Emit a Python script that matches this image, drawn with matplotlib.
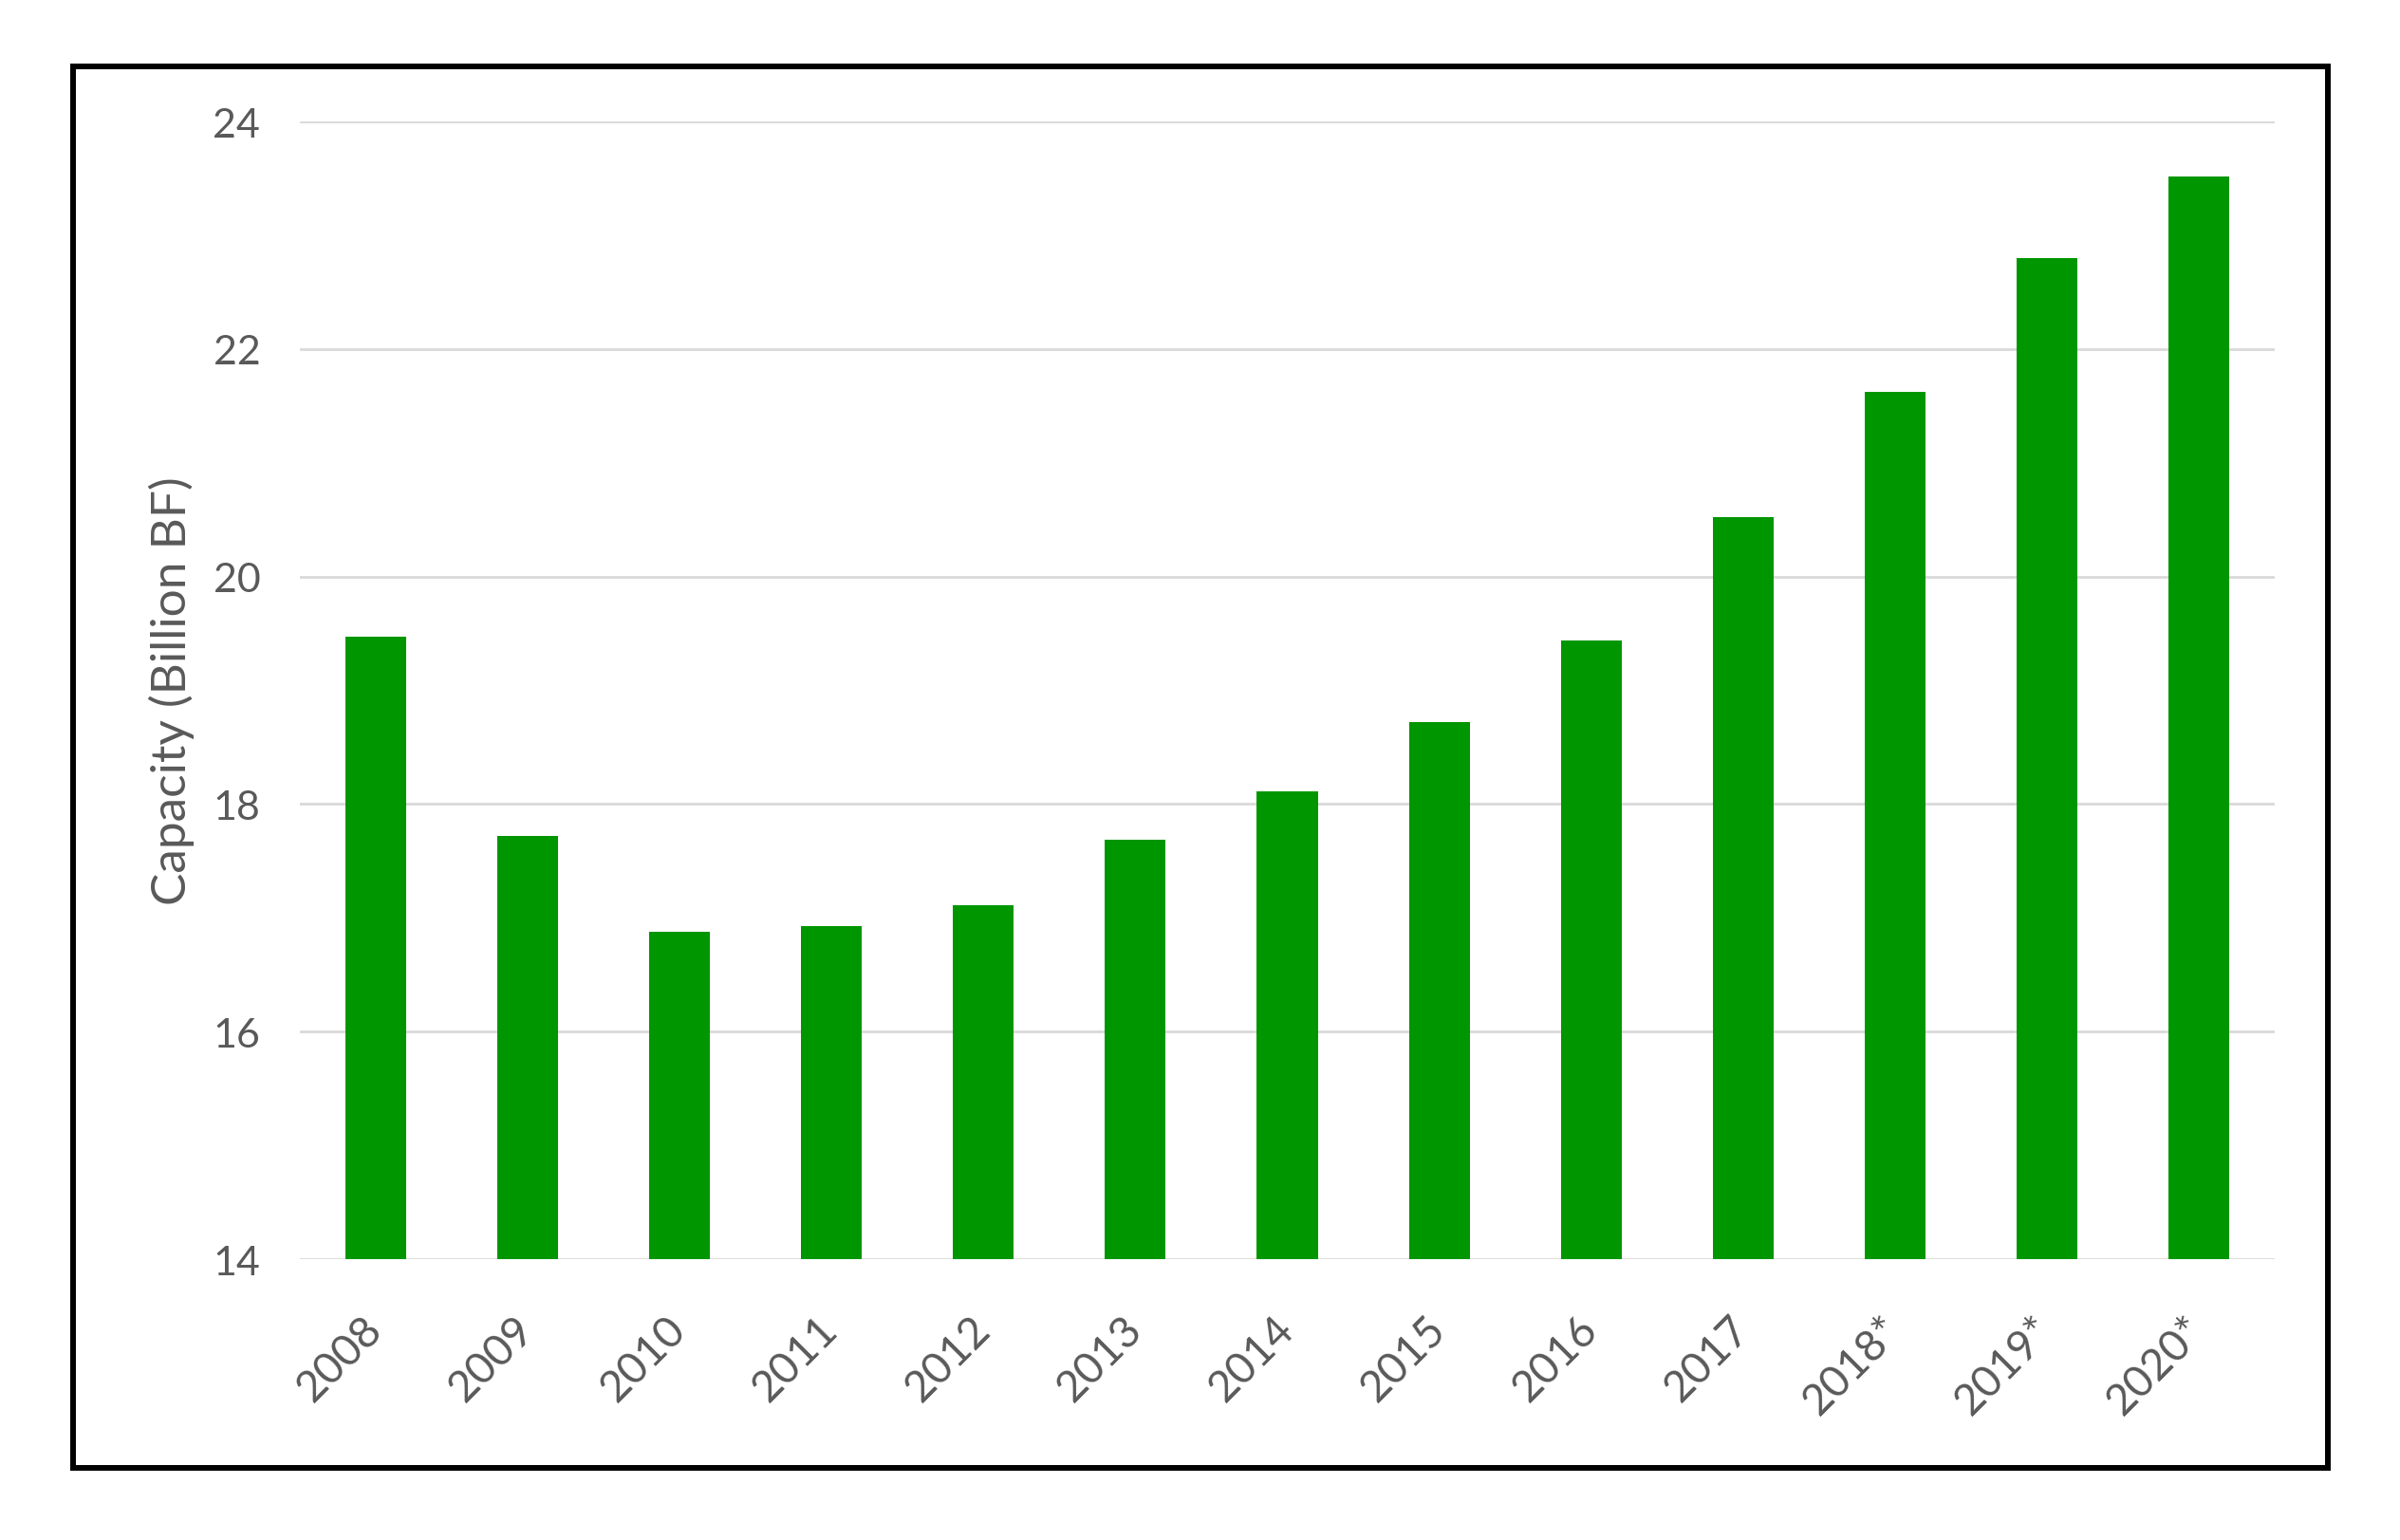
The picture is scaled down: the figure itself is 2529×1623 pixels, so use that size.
import matplotlib.pyplot as plt
from matplotlib.patches import Rectangle

# data
years = ["2008", "2009", "2010", "2011", "2012", "2013", "2014",
         "2015", "2016", "2017", "2018*", "2019*", "2020*"]
capacity = [19.47, 17.72, 16.88, 16.93, 17.11, 17.69, 18.11,
            18.72, 19.44, 20.52, 21.62, 22.80, 23.52]
yticks = [14, 16, 18, 20, 22, 24]

plt.rcParams['font.family'] = ['Lato', 'DejaVu Sans']
W, H = 2529, 1624
fig = plt.figure(figsize=(W / 100, H / 100), dpi=100)
# plot area in pixels: left 316, right 2397, top 129, bottom 1328
ax = fig.add_axes([316 / W, 1 - 1328 / H, (2397 - 316) / W, (1328 - 129) / H])

x = range(len(years))
ax.bar(x, capacity, width=0.4, color='#009600', zorder=3)

ax.set_xlim(-0.5, len(years) - 0.5)
ax.set_ylim(14, 24)
ax.set_yticks(yticks)
ax.set_yticklabels([str(t) for t in yticks], fontsize=31, color='#595959')
ax.set_xticks(list(x))
ax.set_xticklabels(years, fontsize=33, color='#595959', rotation=45,
                   ha='right', va='center', rotation_mode='anchor')
ax.tick_params(axis='both', length=0)
ax.tick_params(axis='y', pad=30)
ax.tick_params(axis='x', pad=48)
ax.grid(axis='y', color='#d9d9d9', linewidth=2, zorder=0)
for s in ax.spines.values():
    s.set_visible(False)

ax.set_ylabel('Capacity (Billion BF)', fontsize=37, color='#595959', va='center')
ax.yaxis.set_label_coords((181 - 316) / (2397 - 316), 0.5)

# outer black frame
fig.patches.append(Rectangle((77 / W, 1 - 1548 / H), (2453 - 77) / W, (1548 - 71) / H,
                             transform=fig.transFigure, fill=False,
                             edgecolor='black', linewidth=4.3))

fig.savefig('out.png', dpi=100)
